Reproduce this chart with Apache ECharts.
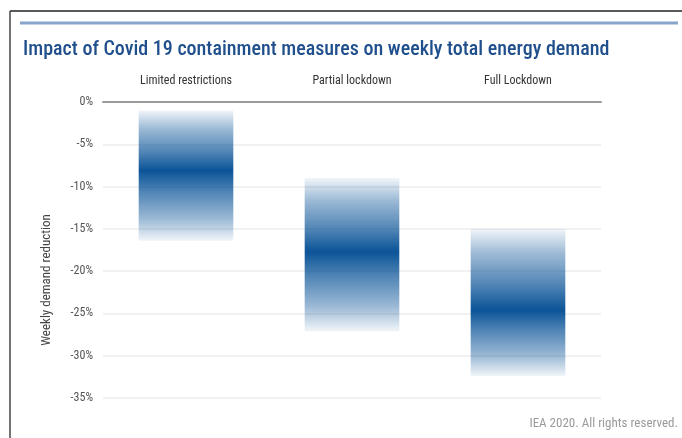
<!DOCTYPE html>
<html>
<head>
<meta charset="utf-8">
<script src="https://cdn.jsdelivr.net/npm/echarts@6/dist/echarts.min.js"></script>
<style>
  html, body { margin: 0; padding: 0; background: #fff; }
  #chart { width: 682px; height: 438px; }
</style>
</head>
<body>
<div id="chart"></div>
<script>
// categories and ranges (% change of weekly energy demand)
var categories = ["Limited restrictions", "Partial lockdown", "Full Lockdown"];
var rangeTop = [-1, -9, -15];        // upper edge of each band
var rangeBottom = [-16.4, -27.1, -32.4]; // lower edge
var peakValue = [-8.1, -17.7, -24.6];   // where the band is darkest
var yTicks = { min: -35, max: 0, step: 5 };

var FONT = "'Liberation Sans Narrow', 'Roboto Condensed', Roboto, sans-serif";

function bandColor(i) {
  // gradient runs from top of band (0) to bottom (1)
  var p = (rangeTop[i] - peakValue[i]) / (rangeTop[i] - rangeBottom[i]);
  var c = function (a) { return "rgba(11,84,152," + a + ")"; };
  return new echarts.graphic.LinearGradient(0, 0, 0, 1, [
    { offset: 0, color: c(0.06) },
    { offset: p * 0.3, color: c(0.4) },
    { offset: p * 0.7, color: c(0.72) },
    { offset: p, color: c(1) },
    { offset: p + (1 - p) * 0.3, color: c(0.72) },
    { offset: p + (1 - p) * 0.7, color: c(0.4) },
    { offset: 1, color: c(0.06) }
  ]);
}

var chart = echarts.init(document.getElementById("chart"));

var option = {
  animation: false,
  title: {
    text: "Impact of Covid 19 containment measures on weekly total energy demand",
    left: 18,
    top: 35,
    textStyle: { fontFamily: FONT, fontSize: 20, fontWeight: 500, color: "#1f4f8c" }
  },
  grid: { left: 103, right: 81, top: 102, bottom: 40 },
  xAxis: {
    type: "category",
    position: "top",
    data: categories,
    axisLine: { show: true, lineStyle: { color: "#9a9a9a", width: 2 } },
    axisTick: { show: false },
    axisLabel: { margin: 15, fontFamily: FONT, fontSize: 12, color: "#333" },
    splitLine: { show: false }
  },
  yAxis: {
    type: "value",
    min: yTicks.min,
    max: yTicks.max,
    interval: yTicks.step,
    name: "Weekly demand reduction",
    nameLocation: "middle",
    nameGap: 50,
    nameTextStyle: { fontFamily: FONT, fontSize: 13, color: "#444", padding: [0, 60, 0, 0] },
    axisLine: { show: false },
    axisTick: { show: false },
    axisLabel: { formatter: "{value}%", margin: 10, fontFamily: FONT, fontSize: 12, color: "#555" },
    splitLine: { lineStyle: { color: "#ececec", width: 1.5 } }
  },
  series: [
    {
      name: "base",
      type: "bar",
      stack: "band",
      barWidth: "57%",
      silent: true,
      itemStyle: { color: "transparent" },
      data: rangeTop
    },
    {
      name: "range",
      type: "bar",
      stack: "band",
      barWidth: "57%",
      data: rangeBottom.map(function (b, i) {
        return { value: +(b - rangeTop[i]).toFixed(2), itemStyle: { color: bandColor(i) } };
      })
    }
  ],
  graphic: [
    // frame
    { type: "line", shape: { x1: 10, y1: 11, x2: 682, y2: 11 }, style: { stroke: "#222", lineWidth: 1.5 } },
    { type: "line", shape: { x1: 10, y1: 11, x2: 10, y2: 438 }, style: { stroke: "#444", lineWidth: 1.5 } },
    // blue rule under frame
    { type: "line", shape: { x1: 20, y1: 23, x2: 678, y2: 23 }, style: { stroke: "#8aa5cb", lineWidth: 3 } },
    {
      type: "text",
      right: 4,
      top: 417,
      style: { text: "IEA 2020. All rights reserved.", fontFamily: FONT, fontSize: 13, fill: "#9a9a9a" }
    }
  ]
};

chart.setOption(option);
</script>
</body>
</html>
